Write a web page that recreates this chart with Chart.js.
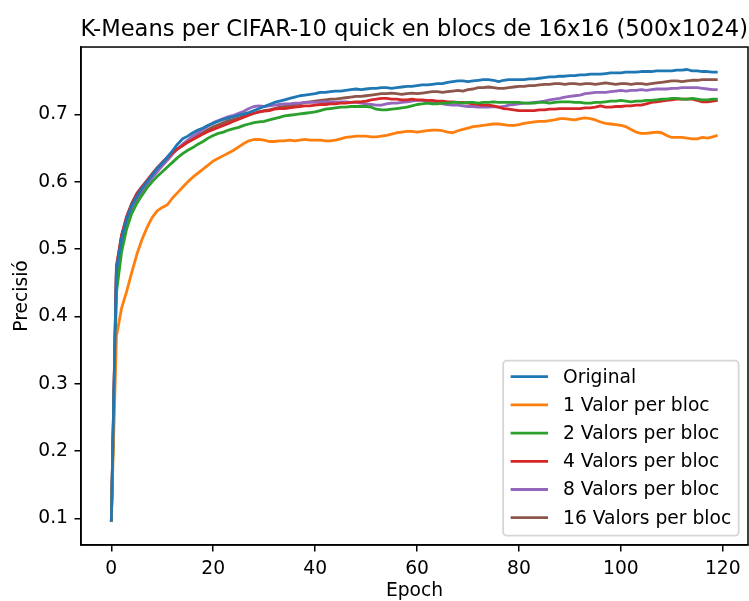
<!DOCTYPE html>
<html>
<head>
<meta charset="utf-8">
<script src="https://cdn.jsdelivr.net/npm/chart.js@4.4.0/dist/chart.umd.min.js"></script>
<style>
html,body{margin:0;padding:0;background:#ffffff;}
canvas{display:block;}
</style>
</head>
<body>
<canvas id="c" width="749" height="601"></canvas>
<script>
// ---------- texts ----------
const chartTitle = 'K-Means per CIFAR-10 quick en blocs de 16x16 (500x1024)';
const xTitle = 'Epoch';
const yTitle = 'Precisió';

// ---------- categories & ticks ----------
const epochs = Array.from({length: 120}, (_, i) => i);
const xTicks = [0, 20, 40, 60, 80, 100, 120];
const yTicks = [0.1, 0.2, 0.3, 0.4, 0.5, 0.6, 0.7];

// ---------- series names ----------
const seriesNames = ['Original', '1 Valor per bloc', '2 Valors per bloc', '4 Valors per bloc', '8 Valors per bloc', '16 Valors per bloc'];

// ---------- series values ----------
const original = [
0.095,0.470,0.515,0.545,0.565,0.578,0.590,0.600,0.610,0.620,
0.628,0.637,0.646,0.656,0.664,0.668,0.673,0.677,0.680,0.684,
0.687,0.690,0.693,0.695,0.697,0.699,0.701,0.703,0.706,0.709,
0.712,0.715,0.718,0.720,0.722,0.724,0.726,0.728,0.729,0.730,
0.731,0.733,0.733,0.734,0.735,0.735,0.736,0.737,0.738,0.737,
0.738,0.739,0.739,0.740,0.740,0.739,0.740,0.741,0.742,0.742,
0.743,0.744,0.744,0.745,0.746,0.746,0.748,0.749,0.750,0.750,
0.749,0.750,0.751,0.752,0.752,0.751,0.749,0.751,0.752,0.752,
0.752,0.752,0.753,0.753,0.754,0.755,0.756,0.756,0.757,0.757,
0.758,0.758,0.759,0.759,0.760,0.760,0.760,0.761,0.762,0.762,
0.762,0.763,0.763,0.763,0.764,0.764,0.764,0.765,0.765,0.765,
0.765,0.766,0.766,0.767,0.765,0.765,0.764,0.764,0.763,0.763];

const valor1 = [
0.095,0.370,0.412,0.437,0.465,0.492,0.514,0.532,0.547,0.557,
0.562,0.566,0.576,0.584,0.592,0.600,0.607,0.613,0.619,0.625,
0.631,0.635,0.639,0.643,0.647,0.652,0.657,0.661,0.663,0.663,
0.662,0.660,0.660,0.661,0.661,0.662,0.661,0.662,0.663,0.662,
0.662,0.662,0.661,0.661,0.662,0.664,0.666,0.667,0.668,0.668,
0.668,0.667,0.667,0.668,0.669,0.671,0.673,0.674,0.675,0.675,
0.674,0.675,0.676,0.677,0.677,0.676,0.674,0.673,0.676,0.678,
0.680,0.682,0.683,0.684,0.685,0.686,0.686,0.685,0.684,0.684,
0.685,0.687,0.688,0.689,0.690,0.690,0.691,0.692,0.694,0.694,
0.693,0.692,0.694,0.695,0.694,0.692,0.689,0.687,0.686,0.685,
0.684,0.682,0.678,0.674,0.672,0.672,0.673,0.674,0.673,0.669,
0.666,0.666,0.666,0.665,0.664,0.664,0.666,0.665,0.667,0.669];

const valors2 = [
0.095,0.435,0.495,0.530,0.553,0.568,0.580,0.591,0.600,0.608,
0.615,0.622,0.629,0.636,0.642,0.647,0.651,0.656,0.660,0.665,
0.669,0.672,0.674,0.677,0.679,0.681,0.684,0.686,0.688,0.689,
0.690,0.692,0.694,0.696,0.698,0.699,0.700,0.701,0.702,0.703,
0.704,0.706,0.708,0.709,0.710,0.711,0.711,0.712,0.712,0.712,
0.712,0.711,0.708,0.707,0.707,0.708,0.709,0.710,0.711,0.713,
0.715,0.716,0.717,0.716,0.716,0.717,0.717,0.718,0.718,0.717,
0.718,0.718,0.717,0.718,0.718,0.719,0.718,0.718,0.718,0.718,
0.718,0.717,0.717,0.717,0.718,0.718,0.717,0.718,0.719,0.719,
0.719,0.718,0.718,0.717,0.717,0.718,0.718,0.719,0.720,0.720,
0.721,0.720,0.719,0.720,0.720,0.721,0.721,0.722,0.723,0.723,
0.724,0.724,0.723,0.723,0.724,0.723,0.722,0.722,0.723,0.723];

const valors4 = [
0.095,0.475,0.520,0.548,0.567,0.581,0.592,0.602,0.612,0.621,
0.629,0.636,0.643,0.649,0.654,0.659,0.663,0.667,0.671,0.675,
0.678,0.681,0.684,0.687,0.690,0.693,0.696,0.699,0.702,0.704,
0.705,0.706,0.708,0.709,0.709,0.710,0.711,0.712,0.713,0.713,
0.714,0.715,0.715,0.716,0.716,0.717,0.717,0.718,0.719,0.719,
0.720,0.722,0.723,0.724,0.724,0.723,0.723,0.722,0.722,0.723,
0.722,0.722,0.721,0.721,0.720,0.720,0.719,0.719,0.718,0.718,
0.717,0.716,0.715,0.714,0.714,0.713,0.711,0.709,0.708,0.707,
0.706,0.706,0.706,0.706,0.707,0.707,0.708,0.708,0.709,0.709,
0.709,0.709,0.709,0.710,0.710,0.711,0.713,0.711,0.711,0.712,
0.712,0.713,0.713,0.714,0.714,0.716,0.718,0.719,0.720,0.721,
0.722,0.723,0.723,0.723,0.723,0.721,0.719,0.719,0.720,0.721];

const valors8 = [
0.095,0.455,0.505,0.535,0.557,0.572,0.585,0.596,0.606,0.615,
0.624,0.632,0.641,0.649,0.656,0.662,0.668,0.673,0.678,0.683,
0.688,0.691,0.694,0.697,0.699,0.702,0.705,0.709,0.712,0.713,
0.712,0.713,0.714,0.715,0.716,0.716,0.717,0.717,0.718,0.718,
0.718,0.719,0.719,0.719,0.718,0.719,0.719,0.718,0.718,0.717,
0.716,0.715,0.714,0.714,0.716,0.717,0.717,0.718,0.719,0.720,
0.721,0.721,0.720,0.719,0.718,0.716,0.715,0.714,0.714,0.713,
0.712,0.712,0.711,0.711,0.711,0.712,0.711,0.712,0.714,0.715,
0.716,0.717,0.717,0.718,0.719,0.720,0.722,0.723,0.724,0.726,
0.727,0.728,0.729,0.731,0.732,0.733,0.733,0.733,0.734,0.735,
0.736,0.735,0.736,0.736,0.737,0.736,0.737,0.738,0.738,0.738,
0.739,0.739,0.740,0.740,0.740,0.740,0.739,0.738,0.737,0.737];

const valors16 = [
0.095,0.472,0.520,0.548,0.568,0.583,0.593,0.602,0.611,0.620,
0.628,0.636,0.643,0.649,0.654,0.659,0.664,0.669,0.673,0.678,
0.682,0.685,0.688,0.691,0.693,0.695,0.698,0.700,0.702,0.704,
0.706,0.707,0.709,0.711,0.712,0.713,0.715,0.716,0.718,0.719,
0.720,0.721,0.722,0.723,0.723,0.724,0.725,0.726,0.727,0.727,
0.728,0.729,0.730,0.731,0.731,0.732,0.731,0.730,0.731,0.732,
0.731,0.732,0.733,0.734,0.734,0.733,0.734,0.735,0.736,0.735,
0.737,0.738,0.740,0.740,0.741,0.740,0.739,0.739,0.740,0.741,
0.742,0.742,0.743,0.743,0.744,0.745,0.745,0.746,0.746,0.745,
0.746,0.746,0.745,0.746,0.746,0.745,0.746,0.747,0.746,0.745,
0.746,0.746,0.745,0.746,0.746,0.745,0.746,0.747,0.748,0.749,
0.750,0.750,0.749,0.750,0.751,0.751,0.752,0.752,0.752,0.752];

// ---------- styles ----------
const seriesColors = ['#1f77b4', '#ff7f0e', '#2ca02c', '#d62728', '#9467bd', '#8c564b'];
const FONT = '"DejaVu Sans", "Liberation Sans", sans-serif';

const allSeries = [original, valor1, valors2, valors4, valors8, valors16];

Chart.defaults.color = '#000000';
Chart.defaults.font.family = FONT;

const frameAndLegend = {
  id: 'frameAndLegend',
  afterDatasetsDraw(chart) {
    const ctx = chart.ctx, a = chart.chartArea;
    ctx.save();
    ctx.strokeStyle = '#000000';
    ctx.lineWidth = 1.5;
    ctx.strokeRect(a.left, a.top, a.right - a.left, a.bottom - a.top);
    ctx.restore();
  },
  afterDraw(chart) {
    const ctx = chart.ctx, a = chart.chartArea;
    const fs = 18.7;
    const ds = chart.data.datasets;
    ctx.save();
    ctx.font = fs + 'px ' + FONT;
    let maxW = 0;
    ds.forEach(d => { maxW = Math.max(maxW, ctx.measureText(d.label).width); });
    const padIn = 0.4 * fs, handleLen = 2.0 * fs, handleGap = 0.8 * fs, rowH = 28.2;
    const boxW = padIn * 2 + handleLen + handleGap + maxW;
    const boxH = 175;
    const right = a.right - 9.3, bottom = a.bottom - 9.3;
    const left = right - boxW, top = bottom - boxH;
    const r = 3.7;
    ctx.beginPath();
    ctx.moveTo(left + r, top);
    ctx.lineTo(right - r, top);
    ctx.arcTo(right, top, right, top + r, r);
    ctx.lineTo(right, bottom - r);
    ctx.arcTo(right, bottom, right - r, bottom, r);
    ctx.lineTo(left + r, bottom);
    ctx.arcTo(left, bottom, left, bottom - r, r);
    ctx.lineTo(left, top + r);
    ctx.arcTo(left, top, left + r, top, r);
    ctx.closePath();
    ctx.fillStyle = 'rgba(255,255,255,0.8)';
    ctx.fill();
    ctx.strokeStyle = 'rgba(204,204,204,0.8)';
    ctx.lineWidth = 1.8;
    ctx.stroke();
    ds.forEach((d, i) => {
      const cy = top + 16 + i * rowH;
      ctx.strokeStyle = d.borderColor;
      ctx.lineWidth = 2.8;
      ctx.beginPath();
      ctx.moveTo(left + padIn, cy);
      ctx.lineTo(left + padIn + handleLen, cy);
      ctx.stroke();
      ctx.fillStyle = '#000000';
      ctx.textAlign = 'left';
      ctx.textBaseline = 'middle';
      ctx.fillText(d.label, left + padIn + handleLen + handleGap, cy + 1);
    });
    ctx.restore();
  }
};

new Chart(document.getElementById('c'), {
  type: 'line',
  data: {
    labels: epochs,
    datasets: allSeries.map((vals, i) => ({
      label: seriesNames[i],
      data: vals,
      borderColor: seriesColors[i],
      backgroundColor: seriesColors[i],
      borderWidth: 2.8,
      pointRadius: 0,
      tension: 0,
      fill: false,
      borderJoinStyle: 'round'
    }))
  },
  options: {
    responsive: false,
    animation: false,
    devicePixelRatio: 1,
    layout: { autoPadding: false, padding: { left: 0, right: 1, top: 0, bottom: 0 } },
    plugins: {
      legend: { display: false },
      tooltip: { enabled: false },
      title: {
        display: true,
        text: chartTitle,
        align: 'end',
        color: '#000000',
        font: { family: FONT, size: 22.6, weight: 'normal' },
        padding: { top: 16.5, bottom: 3.4 }
      }
    },
    scales: {
      x: {
        type: 'linear',
        min: -5.95,
        max: 124.95,
        afterBuildTicks: s => { s.ticks = xTicks.map(v => ({ value: v })); },
        afterFit: s => { s.height = 56; },
        ticks: {
          callback: v => String(v),
          color: '#000000',
          font: { family: FONT, size: 18.7 },
          padding: 6,
          maxRotation: 0,
          autoSkip: false
        },
        grid: { drawOnChartArea: false, drawTicks: true, tickLength: 6.5, color: '#000000', lineWidth: 1.5 },
        border: { display: true, color: '#000000', width: 1.5 },
        title: {
          display: true,
          text: xTitle,
          color: '#000000',
          font: { family: FONT, size: 18.7 },
          padding: { top: 0, bottom: -1.5 }
        }
      },
      y: {
        type: 'linear',
        min: 0.0604,
        max: 0.8004,
        afterBuildTicks: s => { s.ticks = yTicks.map(v => ({ value: v })); },
        afterFit: s => { s.width = 81; },
        ticks: {
          callback: v => Number(v).toFixed(1),
          color: '#000000',
          font: { family: FONT, size: 18.7 },
          padding: 6.5,
          autoSkip: false
        },
        grid: { drawOnChartArea: false, drawTicks: true, tickLength: 6.5, color: '#000000', lineWidth: 1.5 },
        border: { display: true, color: '#000000', width: 1.5 },
        title: {
          display: true,
          text: yTitle,
          color: '#000000',
          font: { family: FONT, size: 18.7 },
          padding: { top: 11, bottom: 0 }
        }
      }
    }
  },
  plugins: [frameAndLegend]
});
</script>
</body>
</html>
